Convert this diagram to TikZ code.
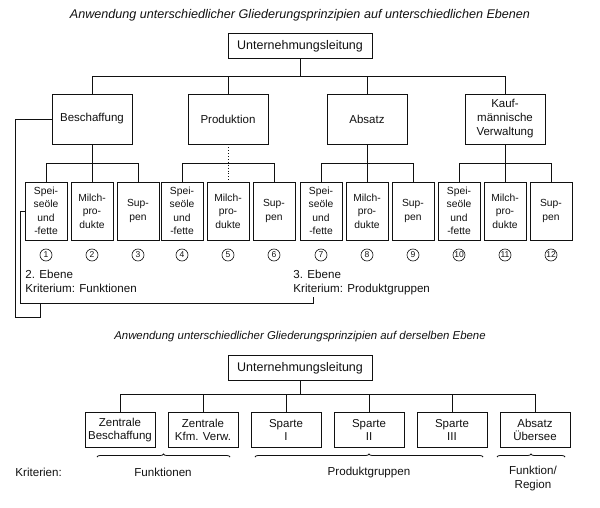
\documentclass[tikz,border=0pt]{standalone}
\usepackage{fontspec}
\setmainfont{Liberation Sans}
\usetikzlibrary{decorations.pathreplacing}
\definecolor{OrgInk}{HTML}{111111}

\begin{document}
\begin{tikzpicture}[x=1pt,y=-1pt,line width=0.9pt,draw=OrgInk,
    orgbox/.style={draw=OrgInk,fill=white,align=center,inner sep=0pt,
      text=OrgInk,font=\fontsize{11.5}{14}\selectfont},
    topbox/.style={orgbox,minimum width=144pt,minimum height=25pt,
      font=\fontsize{12.5}{14}\selectfont},
    lvltwo/.style={orgbox,minimum width=80pt,minimum height=50pt},
    lvlthree/.style={orgbox,minimum width=42pt,minimum height=58pt,
      font=\fontsize{10.3}{13.5}\selectfont},
    unitbox/.style={orgbox,minimum width=70pt,minimum height=35pt,
      font=\fontsize{11.5}{13.5}\selectfont},
    caption/.style={text=OrgInk,font=\itshape\fontsize{12.6}{14}\selectfont},
    note/.style={text=OrgInk,align=left,inner sep=0pt,
      font=\fontsize{11.6}{13.5}\selectfont},
    numlbl/.style={circle,draw=OrgInk,line width=0.6pt,minimum size=12pt,
      inner sep=0pt,text=OrgInk,font=\fontsize{8.5}{9}\selectfont},
    critbrace/.style={decorate,decoration={brace,amplitude=3pt},line width=0.8pt}]
  \useasboundingbox (0,0) rectangle (600,508);

  % upper chart
  \node[caption] (title1) at (300,15)
    {Anwendung unterschiedlicher Gliederungsprinzipien auf unterschiedlichen Ebenen};
  \node[topbox] (leitung) at (300,46) {Unternehmungsleitung};

  \node[lvltwo] (beschaffung) at (92,119) {Beschaffung};
  \node[lvltwo] (produktion) at (228,119) {Produktion};
  \node[lvltwo] (absatz) at (367,119) {Absatz};
  \node[lvltwo] (kaufm) at (505,119) {Kauf-\\männische\\Verwaltung};

  \coordinate (bus) at (300,76);
  \draw (leitung.south) -- (bus);
  \draw (beschaffung.north) -- (beschaffung.north |- bus)
    -- (kaufm.north |- bus) -- (kaufm.north);
  \draw (produktion.north) -- (produktion.north |- bus);
  \draw (absatz.north) -- (absatz.north |- bus);

  \foreach \g/\cx in {1/92,2/228,3/367,4/505}{
    \node[lvlthree] (g\g a) at (\cx-46,211) {Spei-\\seöle\\und\\-fette};
    \node[lvlthree] (g\g b) at (\cx,211) {Milch-\\pro-\\dukte};
    \node[lvlthree] (g\g c) at (\cx+46,211) {Sup-\\pen};
    \coordinate (sub\g) at (\cx,163);
    \draw (g\g a.north) -- (g\g a.north |- sub\g) -- (g\g c.north |- sub\g)
      -- (g\g c.north);
  }
  \draw (beschaffung.south) -- (g1b.north);
  \draw[dotted] (produktion.south) -- (g2b.north);
  \draw (absatz.south) -- (g3b.north);
  \draw (kaufm.south) -- (g4b.north);

  \foreach \x [count=\n] in {46,92,138,182,228,274,321,367,413,459,505,551}{
    \node[numlbl] (num\n) at (\x,255) {\n};
  }

  \node[note,anchor=north west] (ebene2) at (25,270)
    {2. Ebene\\Kriterium: Funktionen};
  \node[note,anchor=north west] (ebene3) at (293,270)
    {3. Ebene\\Kriterium: Produktgruppen};

  \coordinate (hookA) at (40,303);
  \coordinate (hookB) at (313,297);
  \draw (beschaffung.west) -- (15,119) -- (15,317) -- (40,317) -- (hookA);
  \draw (g1a.west) -- (20,211) -- (20,303) -- (313,303) -- (hookB);

  % lower chart
  \node[caption,font=\itshape\fontsize{11.4}{13}\selectfont] (title2) at (300,337)
    {Anwendung unterschiedlicher Gliederungsprinzipien auf derselben Ebene};
  \node[topbox] (leitung2) at (300,368) {Unternehmungsleitung};

  \foreach \k/\cx/\txt in {1/120/Zentrale\\Beschaffung,2/203/Zentrale\\Kfm. Verw.,
    3/286/Sparte\\I,4/369/Sparte\\II,5/452/Sparte\\III,6/535/Absatz\\Übersee}{
    \node[unitbox] (unit\k) at (\cx,430) {\txt};
  }
  \coordinate (bus2) at (300,394);
  \draw (leitung2.south) -- (bus2);
  \draw (unit1.north) -- (unit1.north |- bus2) -- (unit6.north |- bus2)
    -- (unit6.north);
  \foreach \k in {2,3,4,5}{
    \draw (unit\k.north) -- (unit\k.north |- bus2);
  }

  \draw[critbrace] (97,457) -- (230,457);
  \draw[critbrace] (255,457) -- (483,457);
  \draw[critbrace] (497,457) -- (565,457);

  \node[note,anchor=west] (krit) at (15,472) {Kriterien:};
  \node[note] (funkt) at (163,472) {Funktionen};
  \node[note] (prod) at (369,472) {Produktgruppen};
  \node[note,align=center,anchor=north] (region) at (533,466) {Funktion/\\Region};
\end{tikzpicture}
\end{document}
